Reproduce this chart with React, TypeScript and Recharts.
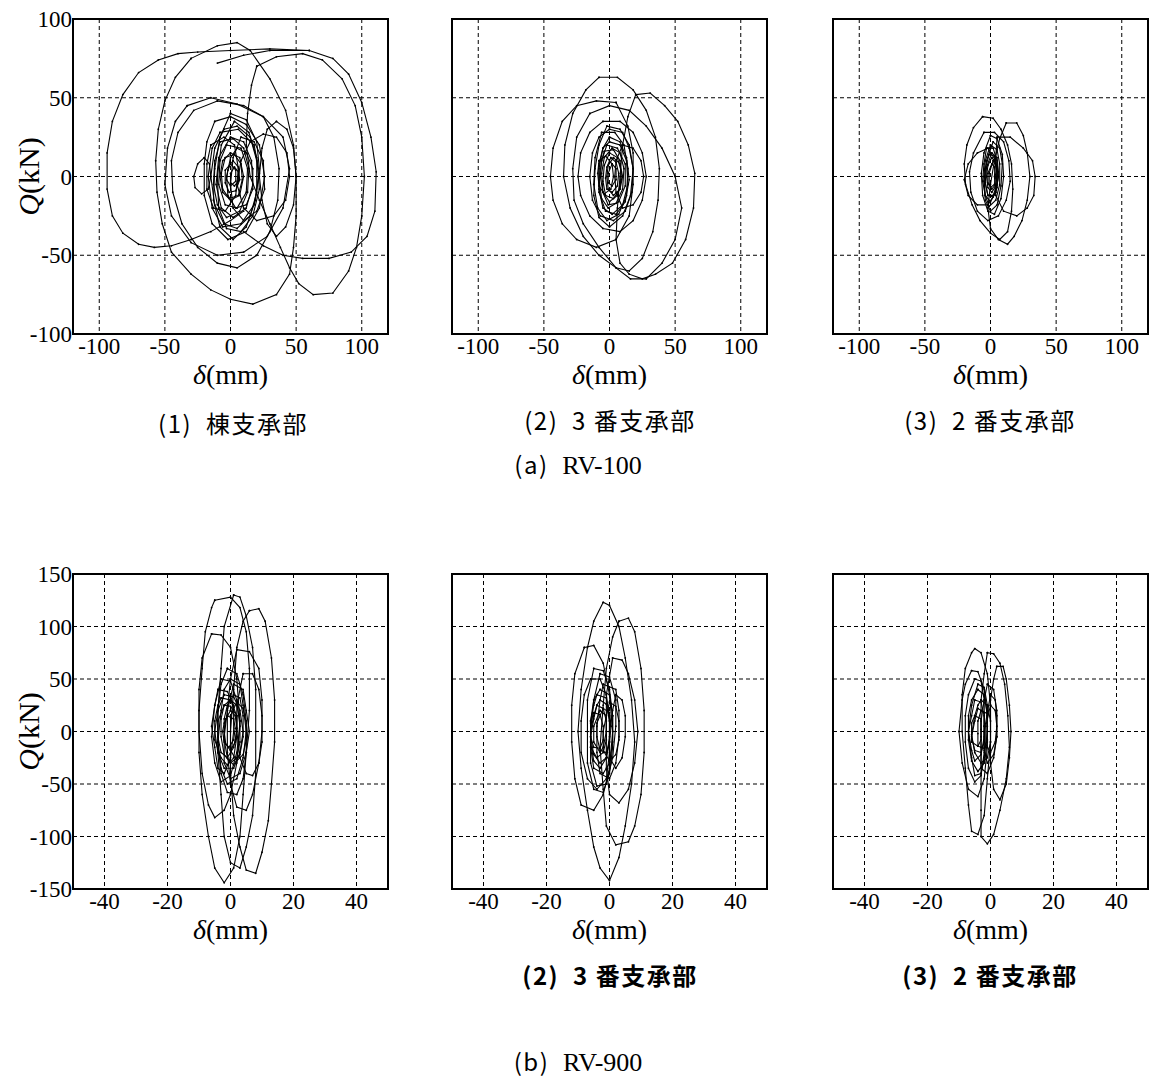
import React from "react"
import { ScatterChart, Scatter, XAxis, YAxis, CartesianGrid, ReferenceArea } from "recharts"

type Loop = number[][]

// (a) RV-100  [δ (mm), Q (kN)]
const rv100Ridge: Loop[] = [
  [[60, 80], [30, 81], [0, 80], [-25, 79], [-40, 78], [-55, 74], [-70, 66], [-82, 52], [-90, 35], [-94, 15], [-94, -8], [-90, -25], [-82, -36], [-70, -43], [-58, -45], [-45, -44], [-30, -40], [-15, -35], [0, -28], [10, -22]],
  [[-10, 72], [10, 77], [30, 80], [60, 80], [78, 75], [90, 65], [100, 47], [107, 25], [111, 3], [110, -22], [104, -38], [92, -48], [75, -52], [55, -52], [40, -50], [25, -44], [10, -35]],
  [[-30, 75], [-10, 83], [5, 85], [15, 80], [30, 62], [42, 42], [48, 20], [50, 0], [50, -25], [48, -45], [45, -62], [35, -75], [17, -81], [0, -78], [-15, -72], [-30, -62], [-45, -48], [-52, -30], [-56, -10], [-57, 10], [-55, 30], [-50, 48], [-42, 63], [-30, 75]],
  [[20, 70], [35, 76], [55, 78], [70, 74], [85, 62], [95, 45], [100, 25], [102, 0], [100, -25], [96, -45], [90, -60], [78, -74], [63, -75], [52, -68], [45, -58], [38, -45], [30, -30], [22, -15], [15, 0], [12, 20], [13, 40], [16, 58], [20, 70]],
  [[-33, 45], [-15, 50], [5, 46], [25, 38], [40, 25], [45, 5], [40, -20], [28, -38], [10, -48], [-10, -50], [-30, -42], [-45, -25], [-50, -5], [-48, 18], [-42, 35], [-33, 45]],
  [[-10, 48], [10, 45], [25, 38], [33, 25], [37, 5], [36, -15], [30, -35], [20, -50], [5, -58], [-10, -55], [-25, -45], [-37, -30], [-44, -10], [-45, 10], [-40, 28], [-28, 42], [-10, 48]],
  [[35, 35], [43, 30], [48, 18], [50, 0], [48, -18], [42, -32], [35, -38], [28, -30], [24, -15], [22, 0], [24, 18], [28, 30], [35, 35]],
  [[15, 22], [25, 27], [35, 25], [43, 15], [45, 0], [42, -15], [33, -25], [20, -28], [10, -20], [5, -5], [8, 10], [15, 22]],
  [[-20, 12], [-25, 8], [-28, 0], [-27, -7], [-22, -11], [-17, -8], [-15, 0], [-16, 8], [-20, 12]],
  [[-5, 30], [5, 32], [15, 25], [20, 10], [20, -10], [15, -25], [5, -33], [-5, -30], [-12, -18], [-15, 0], [-12, 18], [-5, 30]],
  [[0, 25], [10, 22], [16, 10], [17, -5], [12, -20], [2, -26], [-7, -20], [-11, -5], [-9, 12], [0, 25]],
  [[-3, 20], [8, 18], [13, 5], [12, -10], [5, -20], [-4, -18], [-9, -5], [-8, 10], [-3, 20]],
  [[0, 15], [7, 12], [10, 0], [7, -12], [0, -15], [-6, -10], [-8, 0], [-6, 10], [0, 15]],
  [[2, 10], [6, 6], [7, -2], [4, -9], [-1, -10], [-4, -4], [-4, 4], [2, 10]],
  [[-8, 28], [6, 30], [18, 20], [22, 2], [18, -18], [8, -30], [-6, -32], [-14, -20], [-17, 0], [-14, 18], [-8, 28]],
  [[3, 35], [14, 28], [20, 12], [22, -8], [17, -25], [8, -35], [-3, -33], [-9, -20], [-10, 0], [-7, 20], [3, 35]],
  [[0, 8], [4, 4], [4, -3], [0, -6], [-3, -2], [-2, 4], [0, 8]],
  [[-12, 35], [0, 38], [12, 33], [22, 20], [26, 0], [22, -20], [12, -35], [-2, -40], [-14, -30], [-20, -12], [-20, 8], [-18, 22], [-12, 35]],
  [[-8, 22], [2, 24], [10, 18], [14, 5], [13, -10], [7, -22], [-3, -26], [-10, -18], [-13, -5], [-12, 10], [-8, 22]],
  [[5, 18], [12, 15], [17, 5], [17, -8], [12, -18], [4, -20], [-2, -12], [-3, 0], [0, 12], [5, 18]],
  [[-4, 12], [3, 14], [8, 8], [9, -2], [6, -12], [-1, -14], [-6, -8], [-7, 2], [-4, 12]],
  [[8, 25], [18, 22], [25, 10], [26, -8], [20, -22], [10, -28], [2, -20], [0, -5], [2, 12], [8, 25]],
  [[-15, 20], [-5, 25], [3, 20], [6, 5], [4, -12], [-4, -22], [-13, -20], [-18, -8], [-18, 8], [-15, 20]],
  [[0, 40], [12, 36], [20, 22], [22, 5], [19, -15], [12, -32], [2, -40], [-8, -32], [-13, -15], [-12, 5], [-8, 25], [0, 40]],
  [[3, 6], [6, 3], [6, -3], [3, -6], [0, -4], [0, 2], [3, 6]],
]

const rv100No3: Loop[] = [
  [[-8, 63], [6, 63], [18, 55], [28, 42], [35, 25], [38, 5], [37, -15], [33, -35], [25, -52], [15, -60], [5, -58], [-8, -50], [-20, -38], [-30, -20], [-35, 0], [-34, 20], [-28, 40], [-18, 55], [-8, 63]],
  [[5, 47], [-10, 48], [-25, 45], [-36, 35], [-43, 18], [-45, 0], [-43, -15], [-36, -30], [-25, -40], [-10, -45], [5, -40], [15, -25], [18, -5], [18, 15], [14, 32], [5, 47]],
  [[20, 52], [31, 53], [42, 45], [52, 35], [60, 20], [65, 2], [64, -20], [58, -40], [48, -55], [35, -62], [25, -65], [15, -62], [8, -55], [5, -40], [6, -20], [8, 0], [10, 20], [14, 38], [20, 52]],
  [[-15, 40], [0, 45], [15, 42], [28, 32], [40, 18], [50, 0], [55, -20], [50, -40], [40, -55], [28, -65], [16, -65], [5, -58], [-8, -45], [-20, -30], [-27, -15], [-28, 5], [-25, 25], [-15, 40]],
  [[-5, 35], [8, 35], [18, 28], [25, 15], [28, 0], [25, -15], [18, -28], [8, -35], [-5, -33], [-15, -25], [-22, -12], [-24, 0], [-22, 15], [-15, 28], [-5, 35]],
  [[0, 30], [10, 28], [15, 18], [18, 5], [17, -10], [12, -22], [3, -28], [-7, -25], [-13, -15], [-15, 0], [-13, 15], [-8, 25], [0, 30]],
  [[10, 20], [18, 18], [24, 10], [26, 0], [24, -10], [18, -18], [10, -20], [5, -10], [4, 0], [5, 10], [10, 20]],
  [[0, 22], [8, 20], [13, 10], [14, -5], [10, -18], [2, -24], [-5, -20], [-8, -8], [-8, 8], [-5, 18], [0, 22]],
  [[2, 18], [8, 15], [11, 5], [10, -8], [5, -17], [-1, -18], [-5, -10], [-6, 2], [-4, 12], [2, 18]],
  [[0, 15], [6, 12], [9, 3], [8, -8], [3, -14], [-3, -12], [-5, -3], [-4, 7], [0, 15]],
  [[1, 12], [5, 9], [7, 2], [6, -6], [2, -10], [-2, -8], [-3, -1], [-2, 6], [1, 12]],
  [[2, 8], [5, 5], [5, -2], [2, -6], [-1, -4], [-1, 2], [2, 8]],
  [[-2, 20], [6, 18], [12, 8], [12, -6], [7, -16], [-1, -20], [-6, -14], [-8, -2], [-6, 10], [-2, 20]],
  [[-6, 28], [4, 28], [11, 20], [14, 5], [13, -12], [7, -24], [-2, -28], [-9, -20], [-12, -5], [-11, 12], [-6, 28]],
  [[0, 25], [8, 22], [13, 12], [15, -2], [12, -16], [5, -24], [-3, -22], [-8, -10], [-8, 5], [-5, 18], [0, 25]],
  [[-4, 16], [3, 17], [8, 10], [9, -2], [6, -12], [0, -16], [-5, -10], [-7, 0], [-6, 10], [-4, 16]],
  [[3, 12], [8, 8], [10, 0], [8, -8], [3, -12], [-1, -8], [-2, 0], [-1, 7], [3, 12]],
  [[-2, 32], [8, 30], [15, 20], [18, 5], [16, -12], [10, -25], [0, -32], [-8, -26], [-12, -12], [-11, 5], [-8, 20], [-2, 32]],
  [[-8, 10], [-3, 13], [2, 8], [3, 0], [1, -8], [-4, -11], [-8, -6], [-9, 2], [-8, 10]],
]

const rv100No2: Loop[] = [
  [[-6, 38], [2, 37], [8, 30], [13, 20], [16, 8], [17, -8], [16, -22], [13, -35], [7, -40], [0, -36], [-8, -28], [-14, -18], [-19, -5], [-20, 8], [-18, 20], [-13, 31], [-6, 38]],
  [[12, 34], [20, 34], [25, 26], [28, 15], [30, 0], [28, -15], [24, -28], [18, -38], [13, -43], [6, -40], [0, -33], [-2, -20], [0, -5], [3, 10], [7, 24], [12, 34]],
  [[5, 25], [15, 25], [25, 18], [32, 10], [34, 0], [33, -12], [28, -20], [20, -25], [10, -22], [4, -12], [3, 0], [4, 12], [5, 25]],
  [[-5, 28], [3, 28], [10, 22], [14, 10], [15, -3], [12, -15], [6, -25], [-2, -28], [-10, -22], [-15, -10], [-16, 3], [-13, 15], [-5, 28]],
  [[-2, 18], [-10, 15], [-17, 8], [-20, -2], [-17, -12], [-10, -18], [-2, -18], [4, -10], [6, 0], [4, 10], [-2, 18]],
  [[0, 20], [5, 17], [7, 8], [7, -5], [4, -15], [-1, -19], [-4, -12], [-5, 0], [-4, 10], [0, 20]],
  [[1, 15], [5, 12], [6, 3], [5, -7], [2, -13], [-2, -12], [-4, -4], [-3, 6], [1, 15]],
  [[1, 12], [4, 9], [5, 2], [4, -6], [1, -10], [-2, -7], [-3, 0], [-2, 7], [1, 12]],
  [[1, 8], [3, 6], [4, 0], [3, -5], [0, -7], [-2, -4], [-2, 2], [1, 8]],
  [[2, 22], [7, 18], [9, 8], [8, -6], [5, -18], [0, -22], [-4, -15], [-5, -3], [-3, 10], [2, 22]],
  [[-3, 18], [2, 18], [5, 10], [6, 0], [4, -10], [0, -16], [-4, -12], [-6, -3], [-5, 8], [-3, 18]],
  [[0, 26], [5, 24], [9, 14], [10, 0], [8, -14], [3, -24], [-2, -22], [-6, -12], [-7, 2], [-5, 15], [0, 26]],
  [[2, 10], [4, 7], [5, 1], [4, -5], [1, -8], [-1, -5], [-1, 2], [2, 10]],
  [[-1, 14], [3, 13], [5, 5], [5, -5], [2, -12], [-2, -12], [-4, -4], [-4, 5], [-1, 14]],
]

// (b) RV-900
const rv900Ridge: Loop[] = [
  [[-5, 125], [0, 128], [3, 118], [5, 95], [6, 60], [6, 20], [5, -20], [4, -60], [3, -100], [1, -130], [-2, -144], [-5, -130], [-7, -100], [-9, -60], [-10, -20], [-10, 20], [-9, 60], [-8, 95], [-6, 118], [-5, 125]],
  [[1, 130], [3, 128], [5, 110], [7, 80], [8, 40], [8, 0], [8, -40], [7, -80], [5, -110], [3, -130], [0, -125], [-2, -100], [-3, -60], [-4, -20], [-4, 20], [-3, 60], [-2, 100], [1, 130]],
  [[6, 115], [9, 117], [11, 105], [13, 70], [14, 30], [14, -10], [13, -50], [12, -85], [10, -115], [8, -135], [5, -132], [3, -110], [1, -80], [0, -40], [0, 0], [1, 40], [2, 80], [4, 105], [6, 115]],
  [[-6, 93], [-3, 92], [0, 80], [2, 50], [3, 10], [2, -30], [0, -60], [-2, -75], [-5, -82], [-7, -70], [-9, -40], [-10, 0], [-10, 40], [-9, 70], [-6, 93]],
  [[2, 78], [6, 76], [9, 60], [10, 30], [10, 0], [9, -30], [7, -60], [5, -75], [2, -72], [0, -50], [-1, -20], [-1, 20], [0, 50], [2, 78]],
  [[4, 55], [7, 55], [9, 40], [10, 15], [10, -10], [9, -30], [7, -42], [5, -40], [3, -25], [2, 0], [2, 25], [4, 55]],
  [[-1, 60], [2, 55], [4, 35], [5, 10], [5, -20], [4, -45], [2, -60], [-1, -58], [-3, -40], [-4, -10], [-4, 20], [-3, 45], [-1, 60]],
  [[-2, 35], [1, 33], [3, 20], [4, 0], [3, -20], [1, -35], [-2, -35], [-4, -20], [-5, 0], [-4, 20], [-2, 35]],
  [[0, 30], [2, 25], [3, 10], [3, -10], [2, -25], [0, -30], [-2, -22], [-3, -5], [-3, 12], [-2, 25], [0, 30]],
  [[-3, 32], [0, 30], [2, 15], [2, -5], [1, -25], [-1, -32], [-3, -25], [-5, -8], [-5, 10], [-4, 25], [-3, 32]],
  [[0, 20], [1.5, 15], [2, 3], [1.5, -10], [0, -18], [-1.5, -12], [-2, 0], [-1.5, 12], [0, 20]],
  [[1, 45], [4, 40], [5, 20], [6, 0], [5, -20], [3, -40], [0, -45], [-2, -30], [-2, -5], [-1, 20], [1, 45]],
  [[-4, 40], [-1, 38], [1, 25], [1, 0], [0, -25], [-2, -40], [-4, -35], [-5, -15], [-6, 5], [-5, 25], [-4, 40]],
  [[0, 50], [3, 45], [4, 25], [5, 0], [4, -25], [2, -45], [-1, -50], [-3, -35], [-4, -10], [-3, 20], [-2, 40], [0, 50]],
  [[-2, 25], [0, 24], [2, 15], [2, 0], [1, -15], [-1, -25], [-3, -20], [-4, -5], [-4, 10], [-2, 25]],
  [[1, 35], [3, 32], [4, 15], [4, -5], [3, -22], [1, -32], [-1, -25], [-2, -8], [-2, 12], [-1, 25], [1, 35]],
  [[-1, 15], [1, 12], [1.5, 3], [1, -8], [-0.5, -15], [-2, -10], [-2.5, 0], [-2, 8], [-1, 15]],
  [[-3, 50], [0, 48], [2, 30], [3, 5], [2, -20], [0, -42], [-3, -48], [-5, -30], [-6, -5], [-5, 25], [-3, 50]],
  [[2, 28], [4, 22], [5, 8], [5, -8], [4, -22], [2, -28], [0, -18], [0, 0], [0, 15], [2, 28]],
]

const rv900No3: Loop[] = [
  [[-2, 123], [0, 120], [3, 100], [5, 70], [7, 30], [8, -10], [7, -50], [5, -90], [3, -120], [0, -142], [-3, -130], [-5, -110], [-7, -75], [-9, -35], [-10, 0], [-9, 40], [-7, 80], [-5, 105], [-2, 123]],
  [[3, 105], [6, 108], [8, 95], [10, 60], [11, 20], [11, -20], [10, -60], [8, -90], [6, -105], [2, -108], [-1, -90], [-2, -55], [-3, -15], [-2, 25], [-1, 60], [1, 90], [3, 105]],
  [[-8, 80], [-5, 82], [-2, 65], [0, 35], [1, 0], [0, -35], [-2, -60], [-5, -75], [-9, -70], [-11, -45], [-12, -10], [-12, 25], [-11, 55], [-8, 80]],
  [[1, 70], [4, 68], [6, 55], [8, 30], [9, 0], [8, -30], [6, -55], [3, -68], [0, -60], [-1, -35], [-1, 0], [-1, 35], [1, 70]],
  [[-6, 50], [-3, 50], [-1, 35], [0, 10], [0, -20], [-1, -45], [-4, -55], [-7, -45], [-9, -20], [-9, 10], [-8, 35], [-6, 50]],
  [[-3, 40], [0, 35], [1, 15], [1, -10], [0, -30], [-2, -40], [-5, -35], [-6, -15], [-6, 10], [-5, 30], [-3, 40]],
  [[-3, 30], [-1, 26], [0, 10], [0, -10], [-1, -25], [-3, -30], [-5, -22], [-6, -5], [-5, 12], [-4, 25], [-3, 30]],
  [[-4, 25], [-2, 22], [-1, 10], [-1, -8], [-2, -20], [-4, -25], [-6, -15], [-6, 0], [-5, 15], [-4, 25]],
  [[-2, 45], [2, 40], [3, 20], [3, -5], [2, -30], [0, -45], [-3, -40], [-4, -20], [-4, 5], [-3, 30], [-2, 45]],
  [[-3, 20], [-1, 15], [-1, 0], [-2, -15], [-3, -20], [-5, -10], [-5, 5], [-3, 20]],
  [[2, 35], [4, 30], [5, 15], [5, -5], [4, -25], [2, -35], [0, -25], [0, 0], [1, 20], [2, 35]],
  [[-5, 60], [-2, 58], [0, 40], [1, 15], [1, -15], [0, -40], [-2, -58], [-5, -55], [-7, -30], [-7, 0], [-7, 30], [-5, 60]],
  [[-4, 35], [-1, 32], [0, 15], [0, -5], [-1, -25], [-3, -35], [-5, -28], [-6, -10], [-6, 10], [-5, 25], [-4, 35]],
  [[-2, 22], [0, 18], [0.5, 5], [0, -10], [-1, -20], [-3, -18], [-4, -5], [-4, 8], [-2, 22]],
  [[-5, 18], [-3, 16], [-2, 5], [-2, -8], [-3, -16], [-5, -15], [-6, -5], [-6, 8], [-5, 18]],
  [[0, 28], [2, 24], [3, 10], [3, -8], [2, -22], [0, -28], [-2, -18], [-2, 0], [-1, 15], [0, 28]],
  [[-3, 55], [0, 52], [2, 30], [2, 5], [1, -25], [-1, -50], [-4, -52], [-6, -30], [-6, 0], [-5, 30], [-3, 55]],
]

const rv900No2: Loop[] = [
  [[-5, 79], [-3, 75], [-1, 55], [0, 25], [0, -10], [-1, -45], [-2, -80], [-4, -98], [-6, -95], [-7, -70], [-8, -35], [-9, 0], [-9, 35], [-8, 60], [-6, 75], [-5, 79]],
  [[-1, 75], [1, 74], [3, 65], [4.5, 45], [5.5, 15], [6, -15], [5, -45], [3, -75], [1, -98], [-1, -107], [-3, -100], [-3, -75], [-3, -40], [-3, -5], [-3, 30], [-2, 55], [-1, 75]],
  [[2, 62], [4, 62], [5, 50], [6, 25], [6.5, 0], [6, -25], [5, -50], [3, -65], [1, -55], [0, -30], [0, 0], [0, 30], [1, 50], [2, 62]],
  [[-6, 58], [-4, 57], [-2, 40], [-1, 15], [-1, -15], [-2, -45], [-4, -62], [-7, -55], [-9, -30], [-10, 0], [-9, 30], [-8, 45], [-6, 58]],
  [[-4, 40], [-2, 35], [-1, 15], [-1, -10], [-2, -30], [-4, -38], [-6, -28], [-7, -8], [-7, 15], [-6, 30], [-4, 40]],
  [[-3, 30], [-1, 25], [0, 10], [0, -10], [-1, -25], [-3, -30], [-5, -20], [-6, -3], [-5, 15], [-4, 25], [-3, 30]],
  [[-4, 22], [-2, 18], [-2, 5], [-2, -10], [-3, -20], [-5, -18], [-6, -5], [-5, 10], [-4, 22]],
  [[-1, 45], [1, 40], [2, 20], [2, -5], [1, -25], [-1, -40], [-3, -35], [-3, -15], [-3, 10], [-2, 30], [-1, 45]],
  [[-5, 50], [-3, 48], [-2, 30], [-2, 5], [-2, -20], [-3, -42], [-5, -48], [-7, -35], [-8, -10], [-8, 15], [-7, 35], [-5, 50]],
  [[0, 25], [1.5, 20], [2, 5], [1.5, -10], [0, -20], [-1.5, -12], [-1.5, 5], [0, 25]],
  [[-5, 30], [-3, 28], [-2, 15], [-2, -5], [-3, -22], [-5, -28], [-6, -18], [-7, 0], [-6, 15], [-5, 30]],
  [[-3, 20], [-1, 17], [-1, 5], [-1, -8], [-2, -16], [-4, -14], [-4, -2], [-4, 10], [-3, 20]],
  [[-5, 15], [-3, 12], [-3, 2], [-3, -8], [-4, -14], [-6, -10], [-6, 0], [-6, 8], [-5, 15]],
  [[0, 35], [1.5, 30], [2, 15], [2, -5], [1, -22], [-1, -30], [-2, -18], [-2, 0], [-1, 18], [0, 35]],
  [[-4, 45], [-2, 42], [-1, 25], [-1, 0], [-2, -25], [-3, -40], [-5, -42], [-6, -25], [-7, 0], [-6, 25], [-4, 45]],
]

const rv100XDomain = [-120, 120]
const rv100YDomain = [-100, 100]
const rv100XTicks = [-100, -50, 0, 50, 100]
const rv100YTicks = [-100, -50, 0, 50, 100]
const rv900XDomain = [-50, 50]
const rv900YDomain = [-150, 150]
const rv900XTicks = [-40, -20, 0, 20, 40]
const rv900YTicks = [-150, -100, -50, 0, 50, 100, 150]

const serif = "'Liberation Serif', 'Times New Roman', serif"
const cjk = "'Noto Sans CJK JP', 'Noto Sans', sans-serif"
const tickStyle = { fill: "#000", fontSize: 23, fontFamily: serif }

const vertexDot = (props: any) => <circle cx={props.cx} cy={props.cy} r={0.9} fill="#000" />
const noTick = () => <g />

const XTitle = (props: any) => {
  const vb = props.viewBox || {}
  return (
    <text x={vb.x + vb.width / 2} y={vb.y + 50} textAnchor="middle" fontFamily={serif} fontSize={28} fill="#000">
      <tspan fontStyle="italic">δ</tspan>(mm)
    </text>
  )
}

const YTitle = (props: any) => {
  const vb = props.viewBox || {}
  const x = vb.x + 28
  const y = vb.y + vb.height / 2
  return (
    <text x={x} y={y} transform={`rotate(-90 ${x} ${y})`} textAnchor="middle" dominantBaseline="central" fontFamily={serif} fontSize={30} fill="#000">
      <tspan fontStyle="italic">Q</tspan>(kN)
    </text>
  )
}

interface PanelProps {
  loops: Loop[]
  left: number
  top: number
  xDomain: number[]
  yDomain: number[]
  xTicks: number[]
  yTicks: number[]
  showY: boolean
}

const Panel: React.FC<PanelProps> = ({ loops, left, top, xDomain, yDomain, xTicks, yTicks, showY }) => (
  <div style={{ position: "absolute", left, top }}>
    <ScatterChart width={394} height={400} margin={{ top: 19, right: 6, bottom: 0, left: 0 }}>
      <CartesianGrid stroke="#000" strokeDasharray="4 3" />
      <XAxis
        type="number"
        dataKey="d"
        domain={xDomain}
        ticks={xTicks}
        interval={0}
        allowDataOverflow
        axisLine={false}
        tickLine={false}
        tickSize={4}
        tickMargin={0}
        height={66}
        tick={tickStyle}
        label={<XTitle />}
      />
      <YAxis
        type="number"
        dataKey="q"
        domain={yDomain}
        ticks={yTicks}
        interval={0}
        allowDataOverflow
        axisLine={false}
        tickLine={false}
        tickSize={0}
        tickMargin={1}
        width={73}
        tick={showY ? tickStyle : noTick}
        label={showY ? <YTitle /> : undefined}
      />
      {loops.map((loop, i) => (
        <Scatter
          key={i}
          data={loop.map(([d, q]) => ({ d, q }))}
          fill="#000"
          line={{ stroke: "#000", strokeWidth: 1.1 }}
          shape={vertexDot}
          isAnimationActive={false}
        />
      ))}
      <ReferenceArea x1={xDomain[0]} x2={xDomain[1]} y1={yDomain[0]} y2={yDomain[1]} fill="none" stroke="#000" strokeWidth={2} />
    </ScatterChart>
  </div>
)

const Caption: React.FC<{ x: number; y: number; bold?: boolean; children: React.ReactNode }> = ({ x, y, bold, children }) => (
  <div
    style={{
      position: "absolute",
      left: x,
      top: y,
      transform: "translate(-50%, -50%)",
      whiteSpace: "pre",
      fontFamily: cjk,
      fontSize: 24,
      letterSpacing: 1.5,
      fontWeight: bold ? 700 : 400,
      color: "#000",
      lineHeight: 1,
    }}
  >
    {children}
  </div>
)

export default function App() {
  const colLeft = [0, 379, 760]
  return (
    <div style={{ position: "absolute", left: 0, top: 0, width: 1154, height: 1090, background: "#fff", overflow: "hidden" }}>
      <Panel loops={rv100Ridge} left={colLeft[0]} top={0} xDomain={rv100XDomain} yDomain={rv100YDomain} xTicks={rv100XTicks} yTicks={rv100YTicks} showY />
      <Panel loops={rv100No3} left={colLeft[1]} top={0} xDomain={rv100XDomain} yDomain={rv100YDomain} xTicks={rv100XTicks} yTicks={rv100YTicks} showY={false} />
      <Panel loops={rv100No2} left={colLeft[2]} top={0} xDomain={rv100XDomain} yDomain={rv100YDomain} xTicks={rv100XTicks} yTicks={rv100YTicks} showY={false} />

      <Caption x={233} y={423}>(1)  棟支承部</Caption>
      <Caption x={610} y={420}>(2)  3 番支承部</Caption>
      <Caption x={990} y={420}>(3)  2 番支承部</Caption>
      <Caption x={578} y={465}>
        (a)  <span style={{ fontFamily: serif, fontSize: 26, letterSpacing: 0 }}>RV-100</span>
      </Caption>

      <Panel loops={rv900Ridge} left={colLeft[0]} top={555} xDomain={rv900XDomain} yDomain={rv900YDomain} xTicks={rv900XTicks} yTicks={rv900YTicks} showY />
      <Panel loops={rv900No3} left={colLeft[1]} top={555} xDomain={rv900XDomain} yDomain={rv900YDomain} xTicks={rv900XTicks} yTicks={rv900YTicks} showY={false} />
      <Panel loops={rv900No2} left={colLeft[2]} top={555} xDomain={rv900XDomain} yDomain={rv900YDomain} xTicks={rv900XTicks} yTicks={rv900YTicks} showY={false} />

      <Caption x={610} y={975} bold>(2)  3 番支承部</Caption>
      <Caption x={990} y={975} bold>(3)  2 番支承部</Caption>
      <Caption x={578} y={1062}>
        (b)  <span style={{ fontFamily: serif, fontSize: 26, letterSpacing: 0 }}>RV-900</span>
      </Caption>
    </div>
  )
}
